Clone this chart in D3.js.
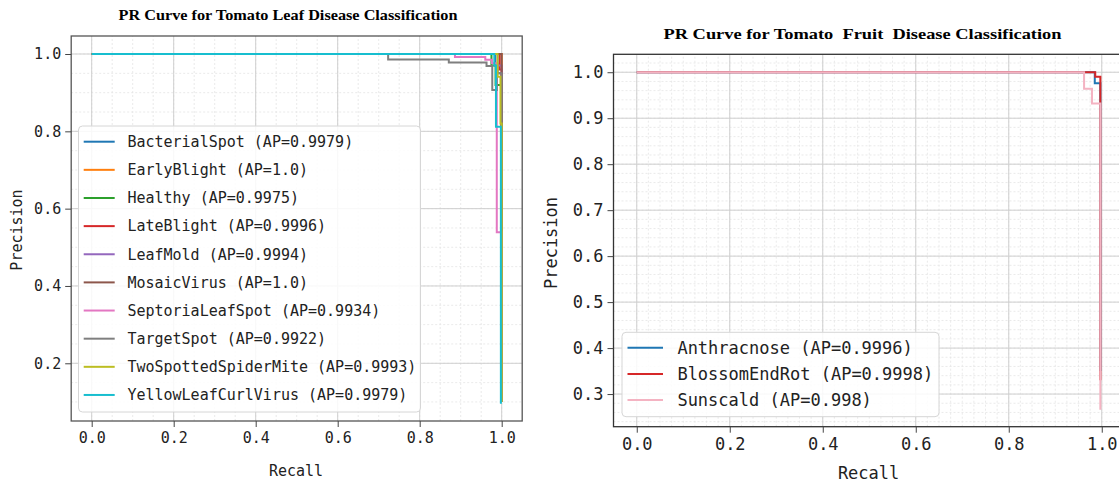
<!DOCTYPE html>
<html>
<head>
<meta charset="utf-8" />
<style>
  body { margin: 0; background: #fff; }
  svg { display: block; }
  .tick text { font-family: "DejaVu Sans Mono", monospace; fill: #222; }
  .mono { font-family: "DejaVu Sans Mono", monospace; fill: #222; }
  .title { font-family: "Liberation Serif", "Times New Roman", serif; font-weight: bold; fill: #000; }
</style>
<title>PR curves</title>
</head>
<body>
<script src="https://cdn.jsdelivr.net/npm/d3@7"></script>
<script>
// ---- leaf data (recall / precision corner points, drawn as steps) ----
const leafClasses = ["BacterialSpot", "EarlyBlight", "Healthy", "LateBlight", "LeafMold",
  "MosaicVirus", "SeptoriaLeafSpot", "TargetSpot", "TwoSpottedSpiderMite", "YellowLeafCurlVirus"];
const leafAP = ["0.9979", "1.0", "0.9975", "0.9996", "0.9994", "1.0", "0.9934", "0.9922", "0.9993", "0.9979"];
const leafRecall = [
  [0, 0.984, 0.99, 1.0],
  [0, 1.0, 1.0],
  [0, 0.975, 0.985, 1.0],
  [0, 0.995, 1.0],
  [0, 0.99, 1.0],
  [0, 1.0, 1.0],
  [0, 0.886, 0.96, 0.976, 0.988, 1.0],
  [0, 0.723, 0.871, 0.963, 0.977, 0.988, 1.0],
  [0, 0.99, 0.997, 1.0],
  [0, 0.982, 0.986, 0.998]
];
const leafPrecision = [
  [1, 0.975, 0.95, 0.10],
  [1, 0.93, 0.10],
  [1, 0.97, 0.92, 0.10],
  [1, 0.96, 0.10],
  [1, 0.97, 0.10],
  [1, 0.96, 0.10],
  [1, 0.992, 0.985, 0.976, 0.539, 0.10],
  [1, 0.986, 0.978, 0.969, 0.907, 0.95, 0.10],
  [1, 0.941, 0.82, 0.10],
  [1, 0.97, 0.812, 0.095]
];

// ---- fruit data ----
const fruitClasses = ["Anthracnose", "BlossomEndRot", "Sunscald"];
const fruitAP = ["0.9996", "0.9998", "0.998"];
const fruitRecall = [
  [0, 0.985, 0.997],
  [0, 0.986, 0.997],
  [0, 0.962, 0.979, 0.997]
];
const fruitPrecision = [
  [1, 0.976, 0.35],
  [1, 0.99, 0.33],
  [1, 0.964, 0.932, 0.266]
];

const xTicks = [0, 0.2, 0.4, 0.6, 0.8, 1.0];
const leafYTicks = [0.2, 0.4, 0.6, 0.8, 1.0];
const fruitYTicks = [0.3, 0.4, 0.5, 0.6, 0.7, 0.8, 0.9, 1.0];

const tab10 = d3.schemeCategory10.slice(0, 10);
tab10[8] = "#bcbd22"; tab10[9] = "#17becf";
const fruitColors = ["#1f77b4", "#d62728", "#f4b3c2"];

const svg = d3.select("body").append("svg").attr("width", 1119).attr("height", 484);
const f1 = d3.format(".1f");

function panel(o) {
  const x = d3.scaleLinear().domain([-0.05, 1.05]).range(o.xr);
  const y = d3.scaleLinear().domain(o.yd).range(o.yr);
  const g = svg.append("g");

  // grid: minor then major
  const xMin = d3.range(0, 1.0001, o.xMinor), yMin = d3.range(Math.ceil(o.yd[0] / o.yMinor) * o.yMinor, o.yd[1], o.yMinor);
  g.selectAll(".gxm").data(xMin).join("line")
    .attr("x1", d => x(d)).attr("x2", d => x(d)).attr("y1", o.yr[0]).attr("y2", o.yr[1])
    .attr("stroke", "#e4e4e4").attr("stroke-width", 0.8).attr("stroke-dasharray", "2,2");
  g.selectAll(".gym").data(yMin).join("line")
    .attr("y1", d => y(d)).attr("y2", d => y(d)).attr("x1", o.xr[0]).attr("x2", o.xr[1])
    .attr("stroke", "#e4e4e4").attr("stroke-width", 0.8).attr("stroke-dasharray", "2,2");
  g.selectAll(".gx").data(xTicks).join("line")
    .attr("x1", d => x(d)).attr("x2", d => x(d)).attr("y1", o.yr[0]).attr("y2", o.yr[1])
    .attr("stroke", "#cfcfcf").attr("stroke-width", 1);
  g.selectAll(".gy").data(o.yTicks).join("line")
    .attr("y1", d => y(d)).attr("y2", d => y(d)).attr("x1", o.xr[0]).attr("x2", o.xr[1])
    .attr("stroke", "#cfcfcf").attr("stroke-width", 1);

  // curves
  const line = d3.line().x(d => x(d[0])).y(d => y(d[1])).curve(d3.curveStepAfter);
  o.recall.forEach((r, i) => {
    g.append("path").datum(r.map((v, j) => [v, o.precision[i][j]]))
      .attr("d", line).attr("fill", "none").attr("stroke", o.colors[i])
      .attr("stroke-width", 2).attr("stroke-linejoin", "miter");
  });

  // frame
  g.append("rect").attr("x", o.xr[0]).attr("y", o.yr[1])
    .attr("width", o.xr[1] - o.xr[0]).attr("height", o.yr[0] - o.yr[1])
    .attr("fill", "none").attr("stroke", o.frame).attr("stroke-width", 1.3);

  // axes
  const ax = g.append("g").attr("transform", `translate(0,${o.yr[0]})`)
    .call(d3.axisBottom(x).tickValues(xTicks).tickFormat(f1).tickSize(6).tickPadding(5));
  const ay = g.append("g").attr("transform", `translate(${o.xr[0]},0)`)
    .call(d3.axisLeft(y).tickValues(o.yTicks).tickFormat(f1).tickSize(6).tickPadding(4));
  [ax, ay].forEach(a => {
    a.select(".domain").remove();
    a.selectAll(".tick line").attr("stroke", "#444");
    a.selectAll(".tick text").attr("font-size", o.fs);
  });

  // labels
  g.append("text").attr("class", "mono").attr("font-size", o.fs)
    .attr("text-anchor", "middle").attr("x", o.recallPos[0]).attr("y", o.recallPos[1]).text("Recall");
  g.append("text").attr("class", "mono").attr("font-size", o.fs)
    .attr("text-anchor", "middle")
    .attr("transform", `translate(${o.precPos[0]},${o.precPos[1]}) rotate(-90)`).text("Precision");
  g.append("text").attr("class", "title").attr("font-size", o.tfs)
    .attr("text-anchor", "middle").attr("x", o.titlePos[0]).attr("y", o.titlePos[1])
    .attr("textLength", o.titleLen).attr("lengthAdjust", "spacingAndGlyphs")
    .style("white-space", "pre").text(o.title);

  // legend
  const L = o.legend;
  g.append("rect").attr("x", L.x).attr("y", L.y).attr("width", L.w).attr("height", L.h)
    .attr("rx", 4).attr("fill", "#fff").attr("fill-opacity", 0.85)
    .attr("stroke", "#d6d6d6").attr("stroke-width", 1);
  o.names.forEach((n, i) => {
    const yy = L.y0 + i * L.dy;
    g.append("line").attr("x1", L.lx1).attr("x2", L.lx2).attr("y1", yy).attr("y2", yy)
      .attr("stroke", o.colors[i]).attr("stroke-width", 2);
    g.append("text").attr("class", "mono").attr("font-size", o.fs)
      .attr("x", L.tx).attr("y", yy).attr("dy", "0.35em")
      .text(`${n} (AP=${o.ap[i]})`);
  });
}

panel({
  xr: [71.2, 522.2], yd: [0.0507, 1.0466], yr: [421, 36],
  yTicks: leafYTicks, xMinor: 0.05, yMinor: 0.05,
  recall: leafRecall, precision: leafPrecision, colors: tab10,
  names: leafClasses, ap: leafAP, frame: "#555", fs: 15, tfs: 14.5,
  title: "PR Curve for Tomato Leaf Disease Classification", titlePos: [288, 20], titleLen: 339,
  recallPos: [296, 476], precPos: [22, 230],
  legend: { x: 78.5, y: 126, w: 342, h: 286, y0: 141.7, dy: 28.14, lx1: 83.7, lx2: 114.7, tx: 127.4 }
});

panel({
  xr: [613.5, 1125], yd: [0.229, 1.039], yr: [426.7, 54.3],
  yTicks: fruitYTicks, xMinor: 0.025, yMinor: 0.02,
  recall: fruitRecall, precision: fruitPrecision, colors: fruitColors,
  names: fruitClasses, ap: fruitAP, frame: "#333", fs: 17, tfs: 15.5,
  title: "PR Curve for Tomato  Fruit  Disease Classification", titlePos: [862.5, 39], titleLen: 398,
  recallPos: [868.6, 479], precPos: [557, 243],
  legend: { x: 622, y: 332.3, w: 317, h: 84.4, y0: 347.7, dy: 26.2, lx1: 627.5, lx2: 663, tx: 677.4 }
});
</script>
</body>
</html>
